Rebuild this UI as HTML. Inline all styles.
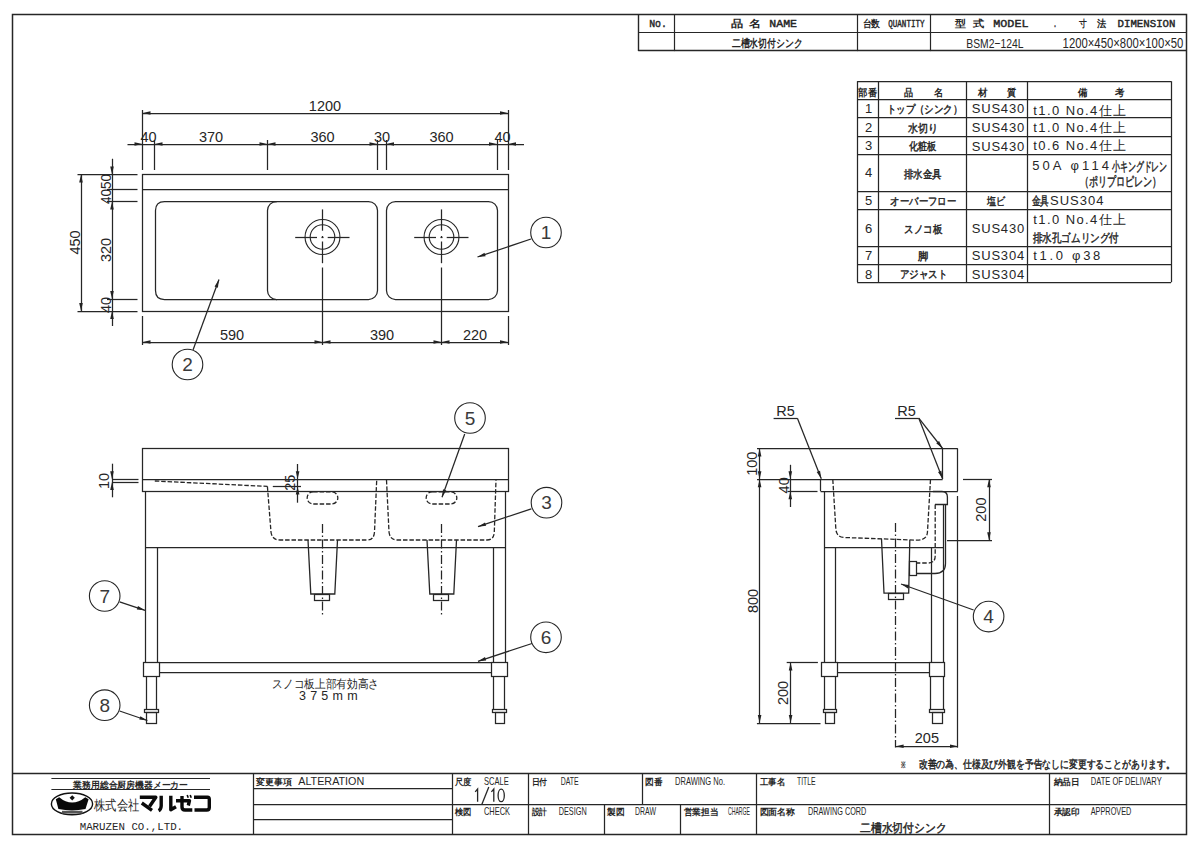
<!DOCTYPE html>
<html><head><meta charset="utf-8"><style>
html,body{margin:0;padding:0;background:#fff;}
body{width:1200px;height:848px;overflow:hidden;}
svg{display:block;}
</style></head><body>
<svg width="1200" height="848" viewBox="0 0 1200 848">
<rect width="1200" height="848" fill="#fff"/>
<rect x="12.5" y="14.5" width="1174.0" height="820.0" rx="0" fill="none" stroke="#262626" stroke-width="1.5"/>
<line x1="638.5" y1="14.5" x2="638.5" y2="51.1" stroke="#262626" stroke-width="1.4"/>
<line x1="638.6" y1="50.5" x2="1187" y2="50.5" stroke="#262626" stroke-width="1.4"/>
<line x1="638.6" y1="32.5" x2="1187" y2="32.5" stroke="#262626" stroke-width="1.2"/>
<line x1="674.5" y1="14.5" x2="674.5" y2="51.1" stroke="#262626" stroke-width="1.2"/>
<line x1="857.5" y1="14.5" x2="857.5" y2="51.1" stroke="#262626" stroke-width="1.2"/>
<line x1="930.5" y1="14.5" x2="930.5" y2="51.1" stroke="#262626" stroke-width="1.2"/>
<text x="649.2" y="27" font-size="11" font-family="Liberation Mono" font-weight="normal" fill="#262626" stroke="#262626" stroke-width="0.45" textLength="17.8" lengthAdjust="spacingAndGlyphs">No.</text>
<text x="730.8" y="27.3" font-size="10" font-family="Liberation Sans" font-weight="bold" fill="#262626" textLength="12.2" lengthAdjust="spacingAndGlyphs">品</text>
<text x="749" y="27.3" font-size="10" font-family="Liberation Sans" font-weight="bold" fill="#262626" textLength="12.0" lengthAdjust="spacingAndGlyphs">名</text>
<text x="769.3" y="27" font-size="11" font-family="Liberation Mono" font-weight="normal" fill="#262626" stroke="#262626" stroke-width="0.45" textLength="27.7" lengthAdjust="spacingAndGlyphs">NAME</text>
<text x="731.7" y="46.6" font-size="11" font-family="Liberation Sans" font-weight="bold" fill="#262626" textLength="70.7" lengthAdjust="spacingAndGlyphs">二槽水切付シンク</text>
<text x="862.5" y="27.3" font-size="9.5" font-family="Liberation Sans" font-weight="bold" fill="#262626" textLength="17.5" lengthAdjust="spacingAndGlyphs">台数</text>
<text x="888.3" y="27" font-size="10.5" font-family="Liberation Mono" font-weight="normal" fill="#262626" stroke="#262626" stroke-width="0.45" textLength="36.2" lengthAdjust="spacingAndGlyphs">QUANTITY</text>
<text x="955" y="27.3" font-size="10" font-family="Liberation Sans" font-weight="bold" fill="#262626" textLength="11.0" lengthAdjust="spacingAndGlyphs">型</text>
<text x="973.3" y="27.3" font-size="10" font-family="Liberation Sans" font-weight="bold" fill="#262626" textLength="11.2" lengthAdjust="spacingAndGlyphs">式</text>
<text x="993.3" y="27" font-size="11" font-family="Liberation Mono" font-weight="normal" fill="#262626" stroke="#262626" stroke-width="0.45" textLength="35.2" lengthAdjust="spacingAndGlyphs">MODEL</text>
<text x="1053" y="26.5" font-size="11" font-family="Liberation Mono" font-weight="normal" fill="#262626" stroke="#262626" stroke-width="0.45" textLength="4.0" lengthAdjust="spacingAndGlyphs">.</text>
<text x="1078.7" y="27.3" font-size="10" font-family="Liberation Sans" font-weight="bold" fill="#262626" textLength="7.8" lengthAdjust="spacingAndGlyphs">寸</text>
<text x="1096.8" y="27.3" font-size="10" font-family="Liberation Sans" font-weight="bold" fill="#262626" textLength="9.2" lengthAdjust="spacingAndGlyphs">法</text>
<text x="1117.5" y="26.7" font-size="11" font-family="Liberation Mono" font-weight="normal" fill="#262626" stroke="#262626" stroke-width="0.45" textLength="58.0" lengthAdjust="spacingAndGlyphs">DIMENSION</text>
<text x="966.3" y="47.8" font-size="13.5" font-family="Liberation Sans" font-weight="normal" fill="#262626" textLength="57.2" lengthAdjust="spacingAndGlyphs">BSM2−124L</text>
<text x="1062.6" y="47.5" font-size="14" font-family="Liberation Sans" font-weight="normal" fill="#262626" textLength="120.8" lengthAdjust="spacingAndGlyphs">1200×450×800×100×50</text>
<line x1="857.2" y1="81.5" x2="1171.1" y2="81.5" stroke="#262626" stroke-width="1.25"/>
<line x1="857.2" y1="99.5" x2="1171.1" y2="99.5" stroke="#262626" stroke-width="1.25"/>
<line x1="857.2" y1="117.5" x2="1171.1" y2="117.5" stroke="#262626" stroke-width="1.25"/>
<line x1="857.2" y1="136.5" x2="1171.1" y2="136.5" stroke="#262626" stroke-width="1.25"/>
<line x1="857.2" y1="154.5" x2="1171.1" y2="154.5" stroke="#262626" stroke-width="1.25"/>
<line x1="857.2" y1="191.5" x2="1171.1" y2="191.5" stroke="#262626" stroke-width="1.25"/>
<line x1="857.2" y1="209.5" x2="1171.1" y2="209.5" stroke="#262626" stroke-width="1.25"/>
<line x1="857.2" y1="246.5" x2="1171.1" y2="246.5" stroke="#262626" stroke-width="1.25"/>
<line x1="857.2" y1="264.5" x2="1171.1" y2="264.5" stroke="#262626" stroke-width="1.25"/>
<line x1="857.2" y1="282.5" x2="1171.1" y2="282.5" stroke="#262626" stroke-width="1.25"/>
<line x1="857.5" y1="81.2" x2="857.5" y2="282.2" stroke="#262626" stroke-width="1.25"/>
<line x1="878.5" y1="81.2" x2="878.5" y2="282.2" stroke="#262626" stroke-width="1.25"/>
<line x1="966.5" y1="81.2" x2="966.5" y2="282.2" stroke="#262626" stroke-width="1.25"/>
<line x1="1027.5" y1="81.2" x2="1027.5" y2="282.2" stroke="#262626" stroke-width="1.25"/>
<line x1="1171.5" y1="81.2" x2="1171.5" y2="282.2" stroke="#262626" stroke-width="1.25"/>
<text x="858.2" y="95.5" font-size="10" font-family="Liberation Sans" font-weight="bold" fill="#262626" textLength="18.8" lengthAdjust="spacingAndGlyphs">部番</text>
<text x="903.9" y="95.5" font-size="10" font-family="Liberation Sans" font-weight="bold" fill="#262626" textLength="9.1" lengthAdjust="spacingAndGlyphs">品</text>
<text x="933.7" y="95.5" font-size="10" font-family="Liberation Sans" font-weight="bold" fill="#262626" textLength="9.3" lengthAdjust="spacingAndGlyphs">名</text>
<text x="977.5" y="95.5" font-size="10" font-family="Liberation Sans" font-weight="bold" fill="#262626" textLength="9.5" lengthAdjust="spacingAndGlyphs">材</text>
<text x="1007.4" y="95.5" font-size="10" font-family="Liberation Sans" font-weight="bold" fill="#262626" textLength="9.1" lengthAdjust="spacingAndGlyphs">質</text>
<text x="1078" y="95.5" font-size="10" font-family="Liberation Sans" font-weight="bold" fill="#262626" textLength="9.5" lengthAdjust="spacingAndGlyphs">備</text>
<text x="1114.5" y="95.5" font-size="10" font-family="Liberation Sans" font-weight="bold" fill="#262626" textLength="9.5" lengthAdjust="spacingAndGlyphs">考</text>
<text x="886.8" y="112.7" font-size="11" font-family="Liberation Sans" font-weight="normal" fill="#262626" stroke="#262626" stroke-width="0.45" textLength="75.4" lengthAdjust="spacingAndGlyphs">トップ（シンク）</text>
<text x="908.2" y="131.8" font-size="11" font-family="Liberation Sans" font-weight="normal" fill="#262626" stroke="#262626" stroke-width="0.45" textLength="29.9" lengthAdjust="spacingAndGlyphs">水切り</text>
<text x="909" y="150.2" font-size="11" font-family="Liberation Sans" font-weight="normal" fill="#262626" stroke="#262626" stroke-width="0.45" textLength="27.7" lengthAdjust="spacingAndGlyphs">化粧板</text>
<text x="903.9" y="177.8" font-size="11" font-family="Liberation Sans" font-weight="normal" fill="#262626" stroke="#262626" stroke-width="0.45" textLength="37.9" lengthAdjust="spacingAndGlyphs">排水金具</text>
<text x="890.4" y="205" font-size="11" font-family="Liberation Sans" font-weight="normal" fill="#262626" stroke="#262626" stroke-width="0.45" textLength="65.7" lengthAdjust="spacingAndGlyphs">オーバーフロー</text>
<text x="904.4" y="232.8" font-size="11" font-family="Liberation Sans" font-weight="normal" fill="#262626" stroke="#262626" stroke-width="0.45" textLength="37.9" lengthAdjust="spacingAndGlyphs">スノコ板</text>
<text x="917.9" y="259.9" font-size="11" font-family="Liberation Sans" font-weight="normal" fill="#262626" stroke="#262626" stroke-width="0.45" textLength="10.3" lengthAdjust="spacingAndGlyphs">脚</text>
<text x="899.6" y="278.2" font-size="11" font-family="Liberation Sans" font-weight="normal" fill="#262626" stroke="#262626" stroke-width="0.45" textLength="47.8" lengthAdjust="spacingAndGlyphs">アジャスト</text>
<text x="868.5" y="112.9" font-size="13" text-anchor="middle" font-family="Liberation Sans" font-weight="normal" fill="#262626">1</text>
<text x="868.5" y="132.2" font-size="13" text-anchor="middle" font-family="Liberation Sans" font-weight="normal" fill="#262626">2</text>
<text x="868.5" y="150.3" font-size="13" text-anchor="middle" font-family="Liberation Sans" font-weight="normal" fill="#262626">3</text>
<text x="868.5" y="177.2" font-size="13" text-anchor="middle" font-family="Liberation Sans" font-weight="normal" fill="#262626">4</text>
<text x="868.5" y="205.4" font-size="13" text-anchor="middle" font-family="Liberation Sans" font-weight="normal" fill="#262626">5</text>
<text x="868.5" y="232.8" font-size="13" text-anchor="middle" font-family="Liberation Sans" font-weight="normal" fill="#262626">6</text>
<text x="868.5" y="260.3" font-size="13" text-anchor="middle" font-family="Liberation Sans" font-weight="normal" fill="#262626">7</text>
<text x="868.5" y="278.5" font-size="13" text-anchor="middle" font-family="Liberation Sans" font-weight="normal" fill="#262626">8</text>
<text x="971.7" y="113.4" font-size="13" font-family="Liberation Sans" font-weight="normal" fill="#262626" textLength="52.5" lengthAdjust="spacing">SUS430</text>
<text x="971.7" y="132" font-size="13" font-family="Liberation Sans" font-weight="normal" fill="#262626" textLength="52.5" lengthAdjust="spacing">SUS430</text>
<text x="971.7" y="150.5" font-size="13" font-family="Liberation Sans" font-weight="normal" fill="#262626" textLength="52.5" lengthAdjust="spacing">SUS430</text>
<text x="971.7" y="232.8" font-size="13" font-family="Liberation Sans" font-weight="normal" fill="#262626" textLength="52.5" lengthAdjust="spacing">SUS430</text>
<text x="971.7" y="260.2" font-size="13" font-family="Liberation Sans" font-weight="normal" fill="#262626" textLength="52.5" lengthAdjust="spacing">SUS304</text>
<text x="971.7" y="278.5" font-size="13" font-family="Liberation Sans" font-weight="normal" fill="#262626" textLength="52.5" lengthAdjust="spacing">SUS304</text>
<text x="987.2" y="205" font-size="10.5" font-family="Liberation Sans" font-weight="normal" fill="#262626" stroke="#262626" stroke-width="0.45" textLength="18.3" lengthAdjust="spacingAndGlyphs">塩ビ</text>
<text x="1033.3" y="114.6" font-size="13" font-family="Liberation Sans" font-weight="normal" fill="#262626" textLength="92.8" lengthAdjust="spacing">t1.0 No.4仕上</text>
<text x="1033.3" y="132.2" font-size="13" font-family="Liberation Sans" font-weight="normal" fill="#262626" textLength="92.8" lengthAdjust="spacing">t1.0 No.4仕上</text>
<text x="1033.3" y="150.3" font-size="13" font-family="Liberation Sans" font-weight="normal" fill="#262626" textLength="92.8" lengthAdjust="spacing">t0.6 No.4仕上</text>
<text x="1033.3" y="224" font-size="13" font-family="Liberation Sans" font-weight="normal" fill="#262626" textLength="92.8" lengthAdjust="spacing">t1.0 No.4仕上</text>
<text x="1032.2" y="170.3" font-size="13" font-family="Liberation Sans" font-weight="normal" fill="#262626" textLength="76.8" lengthAdjust="spacing">50A φ114</text>
<text x="1111.7" y="170.6" font-size="12.5" font-family="Liberation Sans" font-weight="normal" fill="#262626" stroke="#262626" stroke-width="0.45" textLength="55.7" lengthAdjust="spacingAndGlyphs">小キングドレン</text>
<text x="1079.7" y="186.3" font-size="12.5" font-family="Liberation Sans" font-weight="normal" fill="#262626" stroke="#262626" stroke-width="0.45" textLength="81.5" lengthAdjust="spacingAndGlyphs">（ポリプロピレン）</text>
<text x="1031.6" y="205.4" font-size="12" font-family="Liberation Sans" font-weight="normal" fill="#262626" stroke="#262626" stroke-width="0.45" textLength="17.4" lengthAdjust="spacingAndGlyphs">金具</text>
<text x="1050" y="205.4" font-size="13" font-family="Liberation Sans" font-weight="normal" fill="#262626" textLength="53.4" lengthAdjust="spacing">SUS304</text>
<text x="1032.8" y="241.8" font-size="12" font-family="Liberation Sans" font-weight="normal" fill="#262626" stroke="#262626" stroke-width="0.45" textLength="86.1" lengthAdjust="spacingAndGlyphs">排水孔ゴムリング付</text>
<text x="1033.3" y="260.1" font-size="13" font-family="Liberation Sans" font-weight="normal" fill="#262626" textLength="67.0" lengthAdjust="spacing">t1.0 φ38</text>
<line x1="12.75" y1="773.5" x2="1187" y2="773.5" stroke="#262626" stroke-width="1.4"/>
<line x1="452" y1="804.5" x2="1187" y2="804.5" stroke="#262626" stroke-width="1.25"/>
<line x1="253.3" y1="788.5" x2="452" y2="788.5" stroke="#262626" stroke-width="1.25"/>
<line x1="253.3" y1="804.5" x2="452" y2="804.5" stroke="#262626" stroke-width="1.25"/>
<line x1="253.3" y1="819.5" x2="452" y2="819.5" stroke="#262626" stroke-width="1.25"/>
<line x1="253.5" y1="773.5" x2="253.5" y2="834.25" stroke="#262626" stroke-width="1.25"/>
<line x1="452.5" y1="773.5" x2="452.5" y2="834.25" stroke="#262626" stroke-width="1.25"/>
<line x1="528.5" y1="773.5" x2="528.5" y2="834.25" stroke="#262626" stroke-width="1.25"/>
<line x1="756.5" y1="773.5" x2="756.5" y2="834.25" stroke="#262626" stroke-width="1.25"/>
<line x1="1049.5" y1="773.5" x2="1049.5" y2="834.25" stroke="#262626" stroke-width="1.25"/>
<line x1="642.5" y1="773.5" x2="642.5" y2="804" stroke="#262626" stroke-width="1.25"/>
<line x1="604.5" y1="804" x2="604.5" y2="834.25" stroke="#262626" stroke-width="1.25"/>
<line x1="680.5" y1="804" x2="680.5" y2="834.25" stroke="#262626" stroke-width="1.25"/>
<line x1="51.4" y1="778.5" x2="210" y2="778.5" stroke="#262626" stroke-width="1.2"/>
<line x1="51.4" y1="789.5" x2="210" y2="789.5" stroke="#262626" stroke-width="1.2"/>
<text x="73.3" y="787.7" font-size="9" font-family="Liberation Sans" font-weight="bold" fill="#262626" textLength="114.7" lengthAdjust="spacingAndGlyphs">業務用総合厨房機器メーカー</text>
<ellipse cx="72" cy="803.9" rx="20.6" ry="10.9" fill="none" stroke="#111" stroke-width="1.4"/>
<path d="M55.8,799.2 L59.2,797.2 Q72,808 85.3,797.2 L88.6,799.2 L85.5,809 Q72,811.8 58.4,809 Z" fill="#0a0a0a"/>
<path d="M72.2,795.2 L74.8,797.8 L72.2,800.4 L69.6,797.8 Z" fill="#111"/>
<rect x="62" y="810.8" width="20.5" height="2.8" fill="#555"/>
<text x="93.9" y="809.7" font-size="13.5" font-family="Liberation Sans" font-weight="normal" fill="#262626" textLength="45.3" lengthAdjust="spacingAndGlyphs">株式会社</text>
<g fill="none" stroke="#0a0a0a" stroke-width="3.4" stroke-linejoin="round"><path d="M139.8,797.3 L155.8,797.3 L149.5,806.5"/><path d="M141.8,803 L152,810.3"/><path d="M161.2,795.8 L161.2,806 Q161,809.5 158.6,810.8"/><path d="M170.8,795.8 L170.8,809.8 L176,806.8"/><path d="M176,800.7 L189.5,800.7 L188.3,805.5"/><path d="M182,796 L182,807 Q182,810 185,810 L192.3,810"/><path d="M194,797.3 L207.5,797.3 Q209.3,797.3 209.3,799.5 L209.3,807.5 Q209.3,810 206.8,810 L194.5,810"/></g>
<path d="M187.2,795 L188.2,797.8 M190.2,795 L191.2,797.8" stroke="#0a0a0a" stroke-width="1.6"/>
<text x="79.7" y="829.5" font-size="10" font-family="Liberation Mono" font-weight="normal" fill="#262626" textLength="103.4" lengthAdjust="spacingAndGlyphs">MARUZEN CO.,LTD.</text>
<text x="256" y="784.8" font-size="9" font-family="Liberation Sans" font-weight="bold" fill="#262626" textLength="35.7" lengthAdjust="spacingAndGlyphs">変更事項</text>
<text x="298.2" y="784.6" font-size="10.8" font-family="Liberation Sans" font-weight="normal" fill="#262626" textLength="66.1" lengthAdjust="spacingAndGlyphs">ALTERATION</text>
<text x="454.7" y="784.8" font-size="9" font-family="Liberation Sans" font-weight="bold" fill="#262626" textLength="16.6" lengthAdjust="spacingAndGlyphs">尺度</text>
<text x="484" y="784.8" font-size="11.5" font-family="Liberation Sans" font-weight="normal" fill="#262626" textLength="24.7" lengthAdjust="spacingAndGlyphs">SCALE</text>
<text x="531.6" y="784.8" font-size="9" font-family="Liberation Sans" font-weight="bold" fill="#262626" textLength="15.7" lengthAdjust="spacingAndGlyphs">日付</text>
<text x="560.7" y="784.8" font-size="11.5" font-family="Liberation Sans" font-weight="normal" fill="#262626" textLength="18.0" lengthAdjust="spacingAndGlyphs">DATE</text>
<text x="645" y="784.8" font-size="9" font-family="Liberation Sans" font-weight="bold" fill="#262626" textLength="17.4" lengthAdjust="spacingAndGlyphs">図番</text>
<text x="675" y="784.8" font-size="11.5" font-family="Liberation Sans" font-weight="normal" fill="#262626" textLength="50.0" lengthAdjust="spacingAndGlyphs">DRAWING No.</text>
<text x="759.6" y="784.8" font-size="9" font-family="Liberation Sans" font-weight="bold" fill="#262626" textLength="25.4" lengthAdjust="spacingAndGlyphs">工事名</text>
<text x="797" y="784.8" font-size="11.5" font-family="Liberation Sans" font-weight="normal" fill="#262626" textLength="18.6" lengthAdjust="spacingAndGlyphs">TITLE</text>
<text x="1053.7" y="784.8" font-size="9" font-family="Liberation Sans" font-weight="bold" fill="#262626" textLength="25.9" lengthAdjust="spacingAndGlyphs">納品日</text>
<text x="1090.7" y="784.8" font-size="11.5" font-family="Liberation Sans" font-weight="normal" fill="#262626" textLength="71.0" lengthAdjust="spacingAndGlyphs">DATE OF DELIVARY</text>
<text x="454.7" y="815" font-size="9" font-family="Liberation Sans" font-weight="bold" fill="#262626" textLength="16.6" lengthAdjust="spacingAndGlyphs">検図</text>
<text x="484" y="815" font-size="11.5" font-family="Liberation Sans" font-weight="normal" fill="#262626" textLength="26.0" lengthAdjust="spacingAndGlyphs">CHECK</text>
<text x="531.6" y="815" font-size="9" font-family="Liberation Sans" font-weight="bold" fill="#262626" textLength="15.7" lengthAdjust="spacingAndGlyphs">設計</text>
<text x="558.7" y="815" font-size="11.5" font-family="Liberation Sans" font-weight="normal" fill="#262626" textLength="28.0" lengthAdjust="spacingAndGlyphs">DESIGN</text>
<text x="607" y="815" font-size="9" font-family="Liberation Sans" font-weight="bold" fill="#262626" textLength="17.4" lengthAdjust="spacingAndGlyphs">製図</text>
<text x="635" y="815" font-size="11.5" font-family="Liberation Sans" font-weight="normal" fill="#262626" textLength="21.0" lengthAdjust="spacingAndGlyphs">DRAW</text>
<text x="683.6" y="815" font-size="9" font-family="Liberation Sans" font-weight="bold" fill="#262626" textLength="34.8" lengthAdjust="spacingAndGlyphs">営業担当</text>
<text x="728" y="815" font-size="11.5" font-family="Liberation Sans" font-weight="normal" fill="#262626" textLength="22.0" lengthAdjust="spacingAndGlyphs">CHARGE</text>
<text x="759.6" y="815" font-size="9" font-family="Liberation Sans" font-weight="bold" fill="#262626" textLength="35.4" lengthAdjust="spacingAndGlyphs">図面名称</text>
<text x="808" y="815" font-size="11.5" font-family="Liberation Sans" font-weight="normal" fill="#262626" textLength="58.3" lengthAdjust="spacingAndGlyphs">DRAWING CORD</text>
<text x="1053.7" y="815" font-size="9" font-family="Liberation Sans" font-weight="bold" fill="#262626" textLength="25.9" lengthAdjust="spacingAndGlyphs">承認印</text>
<text x="1090.7" y="815" font-size="11.5" font-family="Liberation Sans" font-weight="normal" fill="#262626" textLength="40.7" lengthAdjust="spacingAndGlyphs">APPROVED</text>
<g fill="none" stroke="#262626" stroke-width="1.3"><path d="M475.2,791.9 L477.6,789 L477.6,801.8"/><path d="M488.8,787 L481.8,804.6"/><path d="M491.4,791.9 L493.8,789 L493.8,801.8"/><ellipse cx="501.2" cy="795.4" rx="3.1" ry="6.3"/></g>
<text x="860" y="831.5" font-size="12" font-family="Liberation Sans" font-weight="normal" fill="#262626" stroke="#262626" stroke-width="0.45" textLength="86.4" lengthAdjust="spacingAndGlyphs">二槽水切付シンク</text>
<text x="901.25" y="767.5" font-size="9" font-family="Liberation Sans" font-weight="bold" fill="#262626" textLength="4.8" lengthAdjust="spacingAndGlyphs">※</text>
<text x="918.75" y="767.8" font-size="10.5" font-family="Liberation Sans" font-weight="normal" fill="#262626" stroke="#262626" stroke-width="0.45" textLength="256.2" lengthAdjust="spacingAndGlyphs">改善の為、仕様及び外観を予告なしに変更することがあります。</text>
<rect x="142.5" y="174.5" width="366.0" height="137.0" rx="0" fill="none" stroke="#262626" stroke-width="1.25"/>
<line x1="142.5" y1="189.5" x2="508" y2="189.5" stroke="#262626" stroke-width="1.25"/>
<path d="M277,201.5 L164.5,201.5 Q155.5,201.5 155.5,210.5 L155.5,290.5 Q155.5,299.5 164.5,299.5 L277,299.5" fill="none" stroke="#262626" stroke-width="1.25"/>
<rect x="267.5" y="201.5" width="110.0" height="98.0" rx="9" fill="none" stroke="#262626" stroke-width="1.25"/>
<rect x="386.5" y="201.5" width="111.0" height="98.0" rx="9" fill="none" stroke="#262626" stroke-width="1.25"/>
<circle cx="322.5" cy="237" r="17.45" fill="none" stroke="#262626" stroke-width="1.1"/>
<circle cx="322.5" cy="237" r="12.3" fill="none" stroke="#262626" stroke-width="1.1"/>
<line x1="295.2" y1="237.5" x2="317.0" y2="237.5" stroke="#262626" stroke-width="1.25"/>
<line x1="321.5" y1="237.5" x2="323.5" y2="237.5" stroke="#262626" stroke-width="1.25"/>
<line x1="327.7" y1="237.5" x2="349.5" y2="237.5" stroke="#262626" stroke-width="1.25"/>
<line x1="322.5" y1="209.4" x2="322.5" y2="230.7" stroke="#262626" stroke-width="1.25"/>
<line x1="322.5" y1="236" x2="322.5" y2="238" stroke="#262626" stroke-width="1.25"/>
<line x1="322.5" y1="241.5" x2="322.5" y2="263.2" stroke="#262626" stroke-width="1.25"/>
<line x1="322.5" y1="267.5" x2="322.5" y2="345" stroke="#262626" stroke-width="1.25"/>
<circle cx="441.5" cy="237" r="17.45" fill="none" stroke="#262626" stroke-width="1.1"/>
<circle cx="441.5" cy="237" r="12.3" fill="none" stroke="#262626" stroke-width="1.1"/>
<line x1="414.2" y1="237.5" x2="436.0" y2="237.5" stroke="#262626" stroke-width="1.25"/>
<line x1="440.5" y1="237.5" x2="442.5" y2="237.5" stroke="#262626" stroke-width="1.25"/>
<line x1="446.7" y1="237.5" x2="468.5" y2="237.5" stroke="#262626" stroke-width="1.25"/>
<line x1="441.5" y1="209.4" x2="441.5" y2="230.7" stroke="#262626" stroke-width="1.25"/>
<line x1="441.5" y1="236" x2="441.5" y2="238" stroke="#262626" stroke-width="1.25"/>
<line x1="441.5" y1="241.5" x2="441.5" y2="263.2" stroke="#262626" stroke-width="1.25"/>
<line x1="441.5" y1="267.5" x2="441.5" y2="345" stroke="#262626" stroke-width="1.25"/>
<line x1="142.5" y1="110" x2="142.5" y2="170" stroke="#262626" stroke-width="1.25"/>
<line x1="154.5" y1="140" x2="154.5" y2="170" stroke="#262626" stroke-width="1.25"/>
<line x1="267.5" y1="140" x2="267.5" y2="170" stroke="#262626" stroke-width="1.25"/>
<line x1="377.5" y1="140" x2="377.5" y2="170" stroke="#262626" stroke-width="1.25"/>
<line x1="386.5" y1="140" x2="386.5" y2="170" stroke="#262626" stroke-width="1.25"/>
<line x1="497.5" y1="140" x2="497.5" y2="170" stroke="#262626" stroke-width="1.25"/>
<line x1="508.5" y1="110" x2="508.5" y2="170" stroke="#262626" stroke-width="1.25"/>
<line x1="142.5" y1="113.5" x2="508" y2="113.5" stroke="#262626" stroke-width="1.25"/>
<path d="M142.50,113.00 L150.50,111.20 L150.50,114.80 Z" fill="#222"/>
<path d="M508.00,113.00 L500.00,114.80 L500.00,111.20 Z" fill="#222"/>
<line x1="127.5" y1="144.5" x2="524" y2="144.5" stroke="#262626" stroke-width="1.25"/>
<path d="M142.50,144.00 L134.50,145.80 L134.50,142.20 Z" fill="#222"/>
<path d="M154.50,144.00 L162.50,142.20 L162.50,145.80 Z" fill="#222"/>
<path d="M267.50,144.00 L259.50,145.80 L259.50,142.20 Z" fill="#222"/>
<path d="M267.50,144.00 L275.50,142.20 L275.50,145.80 Z" fill="#222"/>
<path d="M377.50,144.00 L369.50,145.80 L369.50,142.20 Z" fill="#222"/>
<path d="M386.00,144.00 L394.00,142.20 L394.00,145.80 Z" fill="#222"/>
<path d="M497.00,144.00 L489.00,145.80 L489.00,142.20 Z" fill="#222"/>
<path d="M508.00,144.00 L516.00,142.20 L516.00,145.80 Z" fill="#222"/>
<text x="325" y="111" font-size="14.5" text-anchor="middle" font-family="Liberation Sans" font-weight="normal" fill="#262626">1200</text>
<text x="148.5" y="141.5" font-size="14.5" text-anchor="middle" font-family="Liberation Sans" font-weight="normal" fill="#262626">40</text>
<text x="211" y="141.5" font-size="14.5" text-anchor="middle" font-family="Liberation Sans" font-weight="normal" fill="#262626">370</text>
<text x="322.5" y="141.5" font-size="14.5" text-anchor="middle" font-family="Liberation Sans" font-weight="normal" fill="#262626">360</text>
<text x="382" y="141.5" font-size="14.5" text-anchor="middle" font-family="Liberation Sans" font-weight="normal" fill="#262626">30</text>
<text x="441.5" y="141.5" font-size="14.5" text-anchor="middle" font-family="Liberation Sans" font-weight="normal" fill="#262626">360</text>
<text x="502.5" y="141.5" font-size="14.5" text-anchor="middle" font-family="Liberation Sans" font-weight="normal" fill="#262626">40</text>
<line x1="77.5" y1="174.5" x2="137.5" y2="174.5" stroke="#262626" stroke-width="1.25"/>
<line x1="77.5" y1="311.5" x2="137.5" y2="311.5" stroke="#262626" stroke-width="1.25"/>
<line x1="107" y1="189.5" x2="137.5" y2="189.5" stroke="#262626" stroke-width="1.25"/>
<line x1="107" y1="201.5" x2="137.5" y2="201.5" stroke="#262626" stroke-width="1.25"/>
<line x1="107" y1="299.5" x2="137.5" y2="299.5" stroke="#262626" stroke-width="1.25"/>
<line x1="81.5" y1="174.5" x2="81.5" y2="311" stroke="#262626" stroke-width="1.25"/>
<path d="M81.00,174.50 L82.80,182.50 L79.20,182.50 Z" fill="#222"/>
<path d="M81.00,311.00 L79.20,303.00 L82.80,303.00 Z" fill="#222"/>
<line x1="112.5" y1="158.75" x2="112.5" y2="326" stroke="#262626" stroke-width="1.25"/>
<path d="M112.00,174.50 L110.20,166.50 L113.80,166.50 Z" fill="#222"/>
<path d="M112.00,201.50 L113.80,209.50 L110.20,209.50 Z" fill="#222"/>
<path d="M112.00,299.00 L110.20,291.00 L113.80,291.00 Z" fill="#222"/>
<path d="M112.00,311.00 L113.80,319.00 L110.20,319.00 Z" fill="#222"/>
<text x="75" y="247.7" font-size="14.5" text-anchor="middle" font-family="Liberation Sans" fill="#262626" transform="rotate(-90 75 242.5)">450</text>
<text x="105.5" y="255.2" font-size="14.5" text-anchor="middle" font-family="Liberation Sans" fill="#262626" transform="rotate(-90 105.5 250)">320</text>
<text x="105.5" y="194.2" font-size="14.5" text-anchor="middle" font-family="Liberation Sans" fill="#262626" textLength="30" lengthAdjust="spacingAndGlyphs" transform="rotate(-90 105.5 189)">4050</text>
<text x="105.5" y="310.2" font-size="14.5" text-anchor="middle" font-family="Liberation Sans" fill="#262626" transform="rotate(-90 105.5 305)">40</text>
<line x1="142.5" y1="316" x2="142.5" y2="345" stroke="#262626" stroke-width="1.25"/>
<line x1="508.5" y1="316" x2="508.5" y2="345" stroke="#262626" stroke-width="1.25"/>
<line x1="142.5" y1="342.5" x2="508" y2="342.5" stroke="#262626" stroke-width="1.25"/>
<path d="M142.50,342.00 L150.50,340.20 L150.50,343.80 Z" fill="#222"/>
<path d="M322.50,342.00 L314.50,343.80 L314.50,340.20 Z" fill="#222"/>
<path d="M322.50,342.00 L330.50,340.20 L330.50,343.80 Z" fill="#222"/>
<path d="M441.50,342.00 L433.50,343.80 L433.50,340.20 Z" fill="#222"/>
<path d="M441.50,342.00 L449.50,340.20 L449.50,343.80 Z" fill="#222"/>
<path d="M508.00,342.00 L500.00,343.80 L500.00,340.20 Z" fill="#222"/>
<text x="232" y="339.5" font-size="14.5" text-anchor="middle" font-family="Liberation Sans" font-weight="normal" fill="#262626">590</text>
<text x="382" y="339.5" font-size="14.5" text-anchor="middle" font-family="Liberation Sans" font-weight="normal" fill="#262626">390</text>
<text x="475" y="339.5" font-size="14.5" text-anchor="middle" font-family="Liberation Sans" font-weight="normal" fill="#262626">220</text>
<circle cx="546" cy="232.5" r="15.3" fill="none" stroke="#262626" stroke-width="1.1"/>
<text x="546" y="239.1" font-size="19" text-anchor="middle" font-family="Liberation Sans" font-weight="normal" fill="#3a3a3a">1</text>
<line x1="531" y1="239" x2="477.5" y2="257" stroke="#262626" stroke-width="1.25"/>
<path d="M477.50,257.00 L484.51,252.74 L485.66,256.15 Z" fill="#222"/>
<circle cx="187.5" cy="364.5" r="15.3" fill="none" stroke="#262626" stroke-width="1.1"/>
<text x="187.5" y="371.1" font-size="19" text-anchor="middle" font-family="Liberation Sans" font-weight="normal" fill="#3a3a3a">2</text>
<line x1="193" y1="350" x2="219" y2="279.5" stroke="#262626" stroke-width="1.25"/>
<path d="M219.00,279.50 L217.92,287.63 L214.54,286.38 Z" fill="#222"/>
<rect x="142.5" y="448.5" width="366.0" height="43.0" rx="0" fill="none" stroke="#262626" stroke-width="1.25"/>
<line x1="142.5" y1="479.5" x2="508" y2="479.5" stroke="#262626" stroke-width="1.25"/>
<line x1="145.5" y1="491.2" x2="145.5" y2="662.7" stroke="#262626" stroke-width="1.25"/>
<line x1="505.5" y1="491.2" x2="505.5" y2="662.7" stroke="#262626" stroke-width="1.25"/>
<line x1="145.7" y1="547.5" x2="505.3" y2="547.5" stroke="#262626" stroke-width="1.25"/>
<line x1="157.5" y1="547.7" x2="157.5" y2="662.7" stroke="#262626" stroke-width="1.25"/>
<line x1="493.5" y1="547.7" x2="493.5" y2="662.7" stroke="#262626" stroke-width="1.25"/>
<rect x="143.5" y="662.5" width="16.0" height="14.0" rx="0" fill="none" stroke="#262626" stroke-width="1.25"/>
<line x1="146.5" y1="676.4" x2="146.5" y2="709.4" stroke="#262626" stroke-width="1.25"/>
<line x1="156.5" y1="676.4" x2="156.5" y2="709.4" stroke="#262626" stroke-width="1.25"/>
<rect x="144.5" y="709.5" width="14.0" height="3.0" rx="0" fill="none" stroke="#262626" stroke-width="1.25"/>
<rect x="146.5" y="712.5" width="10.0" height="11.0" rx="0" fill="none" stroke="#262626" stroke-width="1.25"/>
<rect x="491.5" y="662.5" width="16.0" height="14.0" rx="0" fill="none" stroke="#262626" stroke-width="1.25"/>
<line x1="493.5" y1="676.4" x2="493.5" y2="709.4" stroke="#262626" stroke-width="1.25"/>
<line x1="504.5" y1="676.4" x2="504.5" y2="709.4" stroke="#262626" stroke-width="1.25"/>
<rect x="492.5" y="709.5" width="14.0" height="3.0" rx="0" fill="none" stroke="#262626" stroke-width="1.25"/>
<rect x="495.5" y="712.5" width="9.0" height="11.0" rx="0" fill="none" stroke="#262626" stroke-width="1.25"/>
<line x1="159.2" y1="662.5" x2="491.5" y2="662.5" stroke="#262626" stroke-width="1.25"/>
<line x1="159.2" y1="672.5" x2="491.5" y2="672.5" stroke="#262626" stroke-width="1.25"/>
<path d="M154.8,481 L267.4,486.4" fill="none" stroke="#262626" stroke-width="1.3" stroke-dasharray="4.5,1.9"/>
<path d="M267.4,486.4 L271,532 Q272,540 280,540 L367,540 Q374,540 374.5,532 L376.7,480" fill="none" stroke="#262626" stroke-width="1.3" stroke-dasharray="4.5,1.9"/>
<path d="M386.5,480 L389,532 Q390,540 397,540 L487,540 Q494,540 494.3,532 L496,480" fill="none" stroke="#262626" stroke-width="1.3" stroke-dasharray="4.5,1.9"/>
<rect x="307.2" y="491.8" width="30.6" height="12.2" rx="6" fill="none" stroke="#262626" stroke-width="1.3" stroke-dasharray="4.5,1.9"/>
<path d="M308.0,540 L310.8,594 L334.8,594 L337.5,540" fill="none" stroke="#262626" stroke-width="1.3"/>
<rect x="314.5" y="594.5" width="15.0" height="6.0" rx="0" fill="none" stroke="#262626" stroke-width="1.25"/>
<line x1="322.5" y1="524" x2="322.5" y2="616" stroke="#262626" stroke-width="1.25" stroke-dasharray="9,2.5,1.5,2.5"/>
<rect x="426.2" y="491.8" width="30.6" height="12.2" rx="6" fill="none" stroke="#262626" stroke-width="1.3" stroke-dasharray="4.5,1.9"/>
<path d="M427.0,540 L429.8,594 L453.8,594 L456.5,540" fill="none" stroke="#262626" stroke-width="1.3"/>
<rect x="433.5" y="594.5" width="15.0" height="6.0" rx="0" fill="none" stroke="#262626" stroke-width="1.25"/>
<line x1="441.5" y1="524" x2="441.5" y2="616" stroke="#262626" stroke-width="1.25" stroke-dasharray="9,2.5,1.5,2.5"/>
<line x1="112.5" y1="479.5" x2="138.5" y2="479.5" stroke="#262626" stroke-width="1.25"/>
<line x1="112.5" y1="482.5" x2="138.5" y2="482.5" stroke="#262626" stroke-width="1.25"/>
<line x1="112.5" y1="463.7" x2="112.5" y2="497.3" stroke="#262626" stroke-width="1.25"/>
<path d="M112.00,479.30 L110.20,471.30 L113.80,471.30 Z" fill="#222"/>
<path d="M112.00,482.00 L113.80,490.00 L110.20,490.00 Z" fill="#222"/>
<text x="103.8" y="486.2" font-size="14.5" text-anchor="middle" font-family="Liberation Sans" fill="#262626" transform="rotate(-90 103.8 481)">10</text>
<line x1="272.8" y1="486.5" x2="301" y2="486.5" stroke="#262626" stroke-width="1.25"/>
<line x1="297.5" y1="464" x2="297.5" y2="502.7" stroke="#262626" stroke-width="1.25"/>
<path d="M297.60,479.30 L295.80,471.30 L299.40,471.30 Z" fill="#222"/>
<path d="M297.60,486.50 L299.40,494.50 L295.80,494.50 Z" fill="#222"/>
<text x="290" y="487.9" font-size="14.5" text-anchor="middle" font-family="Liberation Sans" fill="#262626" transform="rotate(-90 290 482.7)">25</text>
<circle cx="470" cy="418" r="15.3" fill="none" stroke="#262626" stroke-width="1.1"/>
<text x="470" y="424.6" font-size="19" text-anchor="middle" font-family="Liberation Sans" font-weight="normal" fill="#3a3a3a">5</text>
<line x1="464.7" y1="434" x2="442" y2="497.3" stroke="#262626" stroke-width="1.25"/>
<path d="M442.00,497.30 L443.01,489.16 L446.39,490.38 Z" fill="#222"/>
<circle cx="546.5" cy="502.7" r="15.3" fill="none" stroke="#262626" stroke-width="1.1"/>
<text x="546.5" y="509.3" font-size="19" text-anchor="middle" font-family="Liberation Sans" font-weight="normal" fill="#3a3a3a">3</text>
<line x1="531.3" y1="508.8" x2="478" y2="526.7" stroke="#262626" stroke-width="1.25"/>
<path d="M478.00,526.70 L485.01,522.45 L486.16,525.86 Z" fill="#222"/>
<circle cx="104.7" cy="596" r="15.3" fill="none" stroke="#262626" stroke-width="1.1"/>
<text x="104.7" y="602.6" font-size="19" text-anchor="middle" font-family="Liberation Sans" font-weight="normal" fill="#3a3a3a">7</text>
<line x1="119.6" y1="601.8" x2="145" y2="610.3" stroke="#262626" stroke-width="1.25"/>
<path d="M145.00,610.30 L136.84,609.47 L137.98,606.05 Z" fill="#222"/>
<circle cx="104.7" cy="705.2" r="15.3" fill="none" stroke="#262626" stroke-width="1.1"/>
<text x="104.7" y="711.8000000000001" font-size="19" text-anchor="middle" font-family="Liberation Sans" font-weight="normal" fill="#3a3a3a">8</text>
<line x1="119.6" y1="711" x2="147.4" y2="720.5" stroke="#262626" stroke-width="1.25"/>
<path d="M147.40,720.50 L139.25,719.62 L140.41,716.21 Z" fill="#222"/>
<circle cx="546" cy="637.3" r="15.3" fill="none" stroke="#262626" stroke-width="1.1"/>
<text x="546" y="643.9" font-size="19" text-anchor="middle" font-family="Liberation Sans" font-weight="normal" fill="#3a3a3a">6</text>
<line x1="532" y1="643.5" x2="478" y2="661.3" stroke="#262626" stroke-width="1.25"/>
<path d="M478.00,661.30 L485.03,657.09 L486.16,660.51 Z" fill="#222"/>
<text x="272.3" y="687.8" font-size="11.5" font-family="Liberation Sans" font-weight="normal" fill="#262626" textLength="106.8" lengthAdjust="spacingAndGlyphs">スノコ板上部有効高さ</text>
<text x="298.9" y="700" font-size="12.5" font-family="Liberation Sans" font-weight="normal" fill="#262626" textLength="58.8" lengthAdjust="spacing">3 7 5 m m</text>
<line x1="757" y1="448.5" x2="957.8" y2="448.5" stroke="#262626" stroke-width="1.25"/>
<line x1="757" y1="479.5" x2="942.6" y2="479.5" stroke="#262626" stroke-width="1.25"/>
<line x1="942.5" y1="448.5" x2="942.5" y2="479.2" stroke="#262626" stroke-width="1.25"/>
<line x1="957.5" y1="448.5" x2="957.5" y2="491.2" stroke="#262626" stroke-width="1.25"/>
<line x1="820.5" y1="479.2" x2="820.5" y2="491.2" stroke="#262626" stroke-width="1.25"/>
<line x1="820.6" y1="491.5" x2="957.8" y2="491.5" stroke="#262626" stroke-width="1.25"/>
<line x1="787.5" y1="491.5" x2="817.5" y2="491.5" stroke="#262626" stroke-width="1.25"/>
<line x1="759.5" y1="448.5" x2="759.5" y2="723" stroke="#262626" stroke-width="1.25"/>
<path d="M759.60,448.50 L761.40,456.50 L757.80,456.50 Z" fill="#222"/>
<path d="M759.60,479.20 L757.80,471.20 L761.40,471.20 Z" fill="#222"/>
<path d="M759.60,479.20 L761.40,487.20 L757.80,487.20 Z" fill="#222"/>
<path d="M759.60,723.00 L757.80,715.00 L761.40,715.00 Z" fill="#222"/>
<text x="751.9" y="468.9" font-size="14.5" text-anchor="middle" font-family="Liberation Sans" fill="#262626" transform="rotate(-90 751.9 463.7)">100</text>
<text x="753" y="606.2" font-size="14.5" text-anchor="middle" font-family="Liberation Sans" fill="#262626" transform="rotate(-90 753 601)">800</text>
<line x1="790.5" y1="464.8" x2="790.5" y2="507" stroke="#262626" stroke-width="1.25"/>
<path d="M790.30,479.20 L788.50,471.20 L792.10,471.20 Z" fill="#222"/>
<path d="M790.30,491.20 L792.10,499.20 L788.50,499.20 Z" fill="#222"/>
<text x="783.3" y="490.5" font-size="14.5" text-anchor="middle" font-family="Liberation Sans" fill="#262626" transform="rotate(-90 783.3 485.3)">40</text>
<line x1="963" y1="479.5" x2="992" y2="479.5" stroke="#262626" stroke-width="1.25"/>
<line x1="947" y1="540.5" x2="992" y2="540.5" stroke="#262626" stroke-width="1.25"/>
<line x1="989.5" y1="479.2" x2="989.5" y2="540.2" stroke="#262626" stroke-width="1.25"/>
<path d="M989.00,479.20 L990.80,487.20 L987.20,487.20 Z" fill="#222"/>
<path d="M989.00,540.20 L987.20,532.20 L990.80,532.20 Z" fill="#222"/>
<text x="981.2" y="514.8000000000001" font-size="14.5" text-anchor="middle" font-family="Liberation Sans" fill="#262626" transform="rotate(-90 981.2 509.6)">200</text>
<line x1="824.5" y1="491.2" x2="824.5" y2="662.5" stroke="#262626" stroke-width="1.25"/>
<line x1="824" y1="547.5" x2="943" y2="547.5" stroke="#262626" stroke-width="1.25"/>
<line x1="835.5" y1="547.8" x2="835.5" y2="662.5" stroke="#262626" stroke-width="1.25"/>
<line x1="931.5" y1="547.8" x2="931.5" y2="662.5" stroke="#262626" stroke-width="1.25"/>
<line x1="943.5" y1="504.5" x2="943.5" y2="662.5" stroke="#262626" stroke-width="1.25"/>
<path d="M932.9,491.5 L942,491.5 Q947.4,491.5 947.4,497 L947.4,504.5 L935,504.5" fill="none" stroke="#262626" stroke-width="1.3"/>
<path d="M945.5,504.5 L945.5,563.6 Q945.5,573.5 935,573.5 L916.7,573.5" fill="none" stroke="#262626" stroke-width="1.3"/>
<line x1="957.5" y1="496" x2="957.5" y2="747.6" stroke="#262626" stroke-width="1.25"/>
<path d="M935.2,504.5 L935.2,556 Q935.2,563 928,563 L916.7,563" fill="none" stroke="#262626" stroke-width="1.3" stroke-dasharray="4.5,1.9"/>
<rect x="909.5" y="561.5" width="7.0" height="14.0" rx="0" fill="none" stroke="#262626" stroke-width="1.25"/>
<line x1="837.3" y1="662.5" x2="929.5" y2="662.5" stroke="#262626" stroke-width="1.25"/>
<line x1="837.3" y1="672.5" x2="929.5" y2="672.5" stroke="#262626" stroke-width="1.25"/>
<rect x="821.5" y="662.5" width="16.0" height="14.0" rx="0" fill="none" stroke="#262626" stroke-width="1.25"/>
<line x1="824.5" y1="676.3" x2="824.5" y2="709.2" stroke="#262626" stroke-width="1.25"/>
<line x1="835.5" y1="676.3" x2="835.5" y2="709.2" stroke="#262626" stroke-width="1.25"/>
<rect x="823.5" y="709.5" width="13.0" height="3.0" rx="0" fill="none" stroke="#262626" stroke-width="1.25"/>
<rect x="825.5" y="712.5" width="9.0" height="11.0" rx="0" fill="none" stroke="#262626" stroke-width="1.25"/>
<rect x="929.5" y="662.5" width="15.0" height="14.0" rx="0" fill="none" stroke="#262626" stroke-width="1.25"/>
<line x1="930.5" y1="676.3" x2="930.5" y2="709.2" stroke="#262626" stroke-width="1.25"/>
<line x1="943.5" y1="676.3" x2="943.5" y2="709.2" stroke="#262626" stroke-width="1.25"/>
<rect x="929.5" y="709.5" width="15.0" height="3.0" rx="0" fill="none" stroke="#262626" stroke-width="1.25"/>
<rect x="932.5" y="712.5" width="10.0" height="11.0" rx="0" fill="none" stroke="#262626" stroke-width="1.25"/>
<path d="M832.8,479.5 L835.9,529.8 Q837,537.5 844.3,537.5 L916.7,540.2 Q927.5,540.2 927.5,531.3 L930.5,479.5" fill="none" stroke="#262626" stroke-width="1.3" stroke-dasharray="4.5,1.9"/>
<path d="M881.5,538.8 L884,593.2 L908.7,593.2 L909.8,540" fill="none" stroke="#262626" stroke-width="1.3"/>
<rect x="888.5" y="593.5" width="15.0" height="6.0" rx="0" fill="none" stroke="#262626" stroke-width="1.25"/>
<line x1="895.5" y1="523" x2="895.5" y2="747.6" stroke="#262626" stroke-width="1.25" stroke-dasharray="9,2.5,1.5,2.5"/>
<line x1="895.6" y1="746.5" x2="958" y2="746.5" stroke="#262626" stroke-width="1.25"/>
<path d="M895.60,746.30 L903.60,744.50 L903.60,748.10 Z" fill="#222"/>
<path d="M958.00,746.30 L950.00,748.10 L950.00,744.50 Z" fill="#222"/>
<text x="926.9" y="743" font-size="14.5" text-anchor="middle" font-family="Liberation Sans" font-weight="normal" fill="#262626">205</text>
<line x1="790.5" y1="662.5" x2="790.5" y2="723" stroke="#262626" stroke-width="1.25"/>
<path d="M790.60,662.50 L792.40,670.50 L788.80,670.50 Z" fill="#222"/>
<path d="M790.60,723.00 L788.80,715.00 L792.40,715.00 Z" fill="#222"/>
<line x1="786.7" y1="662.5" x2="817.9" y2="662.5" stroke="#262626" stroke-width="1.25"/>
<line x1="756.9" y1="723.5" x2="820.5" y2="723.5" stroke="#262626" stroke-width="1.25"/>
<text x="782.8" y="698.2" font-size="14.5" text-anchor="middle" font-family="Liberation Sans" fill="#262626" transform="rotate(-90 782.8 693)">200</text>
<text x="785.5" y="416" font-size="14.5" text-anchor="middle" font-family="Liberation Sans" font-weight="normal" fill="#262626">R5</text>
<line x1="773.6" y1="418.5" x2="797.4" y2="418.5" stroke="#262626" stroke-width="1.25"/>
<line x1="797.4" y1="418.2" x2="821.3" y2="478.8" stroke="#262626" stroke-width="1.25"/>
<path d="M821.30,478.80 L816.69,472.02 L820.04,470.70 Z" fill="#222"/>
<text x="906.5" y="416" font-size="14.5" text-anchor="middle" font-family="Liberation Sans" font-weight="normal" fill="#262626">R5</text>
<line x1="895" y1="418.5" x2="918.8" y2="418.5" stroke="#262626" stroke-width="1.25"/>
<line x1="918.8" y1="418.2" x2="942.6" y2="448.5" stroke="#262626" stroke-width="1.25"/>
<path d="M942.60,448.50 L936.24,443.32 L939.07,441.10 Z" fill="#222"/>
<line x1="918.8" y1="418.2" x2="942.6" y2="478.8" stroke="#262626" stroke-width="1.25"/>
<path d="M942.60,478.80 L938.00,472.01 L941.35,470.70 Z" fill="#222"/>
<circle cx="988.6" cy="616.6" r="15.3" fill="none" stroke="#262626" stroke-width="1.1"/>
<text x="988.6" y="623.2" font-size="19" text-anchor="middle" font-family="Liberation Sans" font-weight="normal" fill="#3a3a3a">4</text>
<line x1="973.6" y1="610" x2="901" y2="584" stroke="#262626" stroke-width="1.25"/>
<path d="M901.00,584.00 L909.14,585.00 L907.92,588.39 Z" fill="#222"/>
</svg></body></html>
